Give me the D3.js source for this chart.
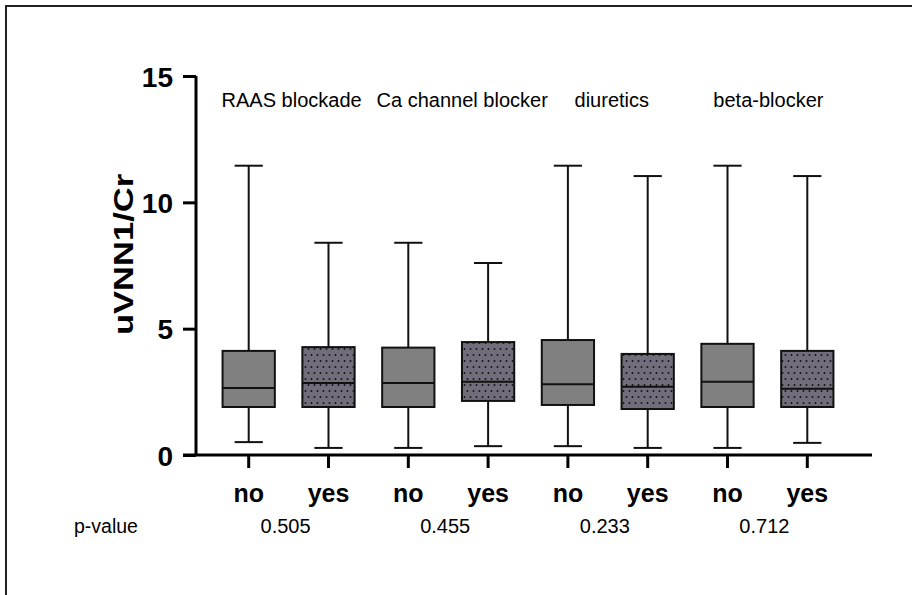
<!DOCTYPE html>
<html>
<head>
<meta charset="utf-8">
<script src="https://cdn.jsdelivr.net/npm/d3@7"></script>
<style>
  body { margin: 0; background: #fff; }
  svg text { font-family: "Liberation Sans", Arial, sans-serif; fill: #000; }
</style>
</head>
<body>
<svg id="chart" width="912" height="595"></svg>
<script>
// groups and the two boxes per group
const groups = ["RAAS blockade", "Ca channel blocker", "diuretics", "beta-blocker"];
const levels = ["no", "yes"];
const pValues = ["0.505", "0.455", "0.233", "0.712"];
const yTicks = [0, 5, 10, 15];

// box stats in group order, no/yes alternating
const whiskerMin = [0.51, 0.28, 0.28, 0.35, 0.35, 0.28, 0.28, 0.48];
const q1 = [1.9, 1.9, 1.9, 2.14, 1.98, 1.82, 1.9, 1.9];
const median = [2.65, 2.85, 2.85, 2.9, 2.8, 2.7, 2.9, 2.62];
const q3 = [4.12, 4.27, 4.25, 4.47, 4.55, 4.0, 4.4, 4.12];
const whiskerMax = [11.45, 8.4, 8.4, 7.6, 11.45, 11.04, 11.45, 11.04];

const margin = { top: 76, left: 196, right: 52, bottom: 140 };
const width = 912 - margin.left - margin.right;
const height = 595 - margin.top - margin.bottom;

const svg = d3.select("#chart");

// outer frame, cut off at right and bottom like the source image
svg.append("path")
  .attr("d", "M6,600 L6,6 L920,6")
  .attr("fill", "none")
  .attr("stroke", "#222")
  .attr("stroke-width", 2);

const defs = svg.append("defs");
const pat = defs.append("pattern")
  .attr("id", "dots")
  .attr("patternUnits", "userSpaceOnUse")
  .attr("width", 6)
  .attr("height", 12);
pat.append("rect").attr("width", 6).attr("height", 12).attr("fill", "#716d7a");
pat.append("circle").attr("cx", 1.5).attr("cy", 3).attr("r", 0.95).attr("fill", "#111");
pat.append("circle").attr("cx", 4.5).attr("cy", 9).attr("r", 0.95).attr("fill", "#111");

const g = svg.append("g").attr("transform", `translate(${margin.left},${margin.top})`);

const boxes = [];
groups.forEach((grp, gi) => {
  levels.forEach((lv, li) => {
    const i = gi * 2 + li;
    boxes.push({
      key: grp + "|" + lv, group: grp, level: lv,
      min: whiskerMin[i], q1: q1[i], med: median[i], q3: q3[i], max: whiskerMax[i]
    });
  });
});

const x = d3.scaleBand()
  .domain(boxes.map(d => d.key))
  .range([13, 651])
  .paddingInner(0.345)
  .paddingOuter(0.17);

const y = d3.scaleLinear().domain([0, 15]).range([height, 0]);

const bw = x.bandwidth();
const cx = d => x(d.key) + bw / 2;

// y axis
const yAxis = g.append("g")
  .call(d3.axisLeft(y).tickValues(yTicks).tickSize(13).tickPadding(10).tickSizeOuter(0));
yAxis.select(".domain").attr("stroke-width", 3).attr("d", `M0,${height}V0`);
yAxis.selectAll(".tick line").attr("stroke-width", 3);
yAxis.selectAll(".tick text")
  .style("font-size", "28px").style("font-weight", "bold").attr("dy", "0.36em");

// x axis
const xAxis = g.append("g")
  .attr("transform", `translate(0,${height})`)
  .call(d3.axisBottom(x).tickSize(13).tickPadding(16).tickSizeOuter(0)
    .tickFormat(k => k.split("|")[1]));
xAxis.select(".domain").attr("stroke-width", 3).attr("d", `M-13,0H${width + 12}`);
xAxis.selectAll(".tick line").attr("stroke-width", 3);
xAxis.selectAll(".tick text")
  .style("font-size", "25px").style("font-weight", "bold");

// y label (the source lettering is stretched along its length)
g.append("text")
  .attr("transform", `translate(-63,${y(7.5) - 11}) rotate(-90) scale(1.28,1)`)
  .attr("text-anchor", "middle")
  .style("font-size", "27px")
  .style("font-weight", "bold")
  .text("uVNN1/Cr");

// boxes
const box = g.selectAll(".box").data(boxes).enter().append("g").attr("class", "box");

box.append("line")
  .attr("x1", cx).attr("x2", cx)
  .attr("y1", d => y(d.max)).attr("y2", d => y(d.min))
  .attr("stroke", "#111").attr("stroke-width", 2);

box.append("line")
  .attr("x1", d => cx(d) - bw * 0.27).attr("x2", d => cx(d) + bw * 0.27)
  .attr("y1", d => y(d.max)).attr("y2", d => y(d.max))
  .attr("stroke", "#111").attr("stroke-width", 2);

box.append("line")
  .attr("x1", d => cx(d) - bw * 0.27).attr("x2", d => cx(d) + bw * 0.27)
  .attr("y1", d => y(d.min)).attr("y2", d => y(d.min))
  .attr("stroke", "#111").attr("stroke-width", 2);

box.append("rect")
  .attr("x", d => x(d.key))
  .attr("y", d => y(d.q3))
  .attr("width", bw)
  .attr("height", d => y(d.q1) - y(d.q3))
  .attr("fill", d => d.level === "no" ? "#808080" : "url(#dots)")
  .attr("stroke", "#111")
  .attr("stroke-width", 2);

box.append("line")
  .attr("x1", d => x(d.key)).attr("x2", d => x(d.key) + bw)
  .attr("y1", d => y(d.med)).attr("y2", d => y(d.med))
  .attr("stroke", "#111").attr("stroke-width", 2);

// group centres
const groupCenter = grp => (cx(boxes.find(b => b.group === grp && b.level === "no")) +
  cx(boxes.find(b => b.group === grp && b.level === "yes"))) / 2;
const labelShift = { "RAAS blockade": 3, "Ca channel blocker": 14, "diuretics": 4, "beta-blocker": 1 };

g.selectAll(".grp-label").data(groups).enter().append("text")
  .attr("class", "grp-label")
  .attr("x", d => groupCenter(d) + (labelShift[d] || 0))
  .attr("y", 31)
  .attr("text-anchor", "middle")
  .style("font-size", "20px")
  .text(d => d);

// p-values
g.append("text")
  .attr("x", -122)
  .attr("y", height + 78)
  .style("font-size", "19.5px")
  .text("p-value");

g.selectAll(".pval").data(groups).enter().append("text")
  .attr("class", "pval")
  .attr("x", d => groupCenter(d) - 3)
  .attr("y", height + 78)
  .attr("text-anchor", "middle")
  .style("font-size", "20px")
  .text((d, i) => pValues[i]);
</script>
</body>
</html>
